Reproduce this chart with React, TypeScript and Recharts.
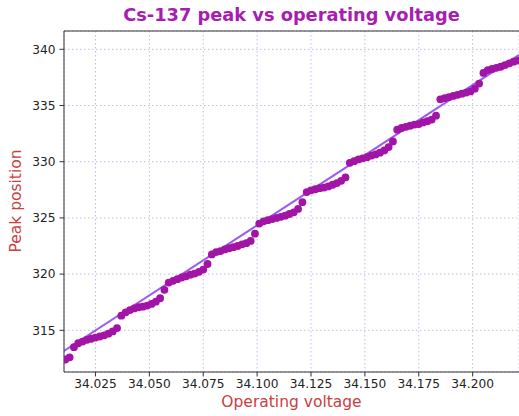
import { ScatterChart, Scatter, XAxis, YAxis, CartesianGrid, ReferenceLine } from "recharts";

// operating voltage (V) for each measured peak
const voltages = [
  34.011, 34.013, 34.015, 34.017, 34.019, 34.021, 34.023, 34.025, 34.027, 34.029,
  34.031, 34.033, 34.035, 34.037, 34.039, 34.041, 34.043, 34.045, 34.047, 34.049,
  34.051, 34.053, 34.055, 34.057, 34.059, 34.061, 34.063, 34.065, 34.067, 34.069,
  34.071, 34.073, 34.075, 34.077, 34.079, 34.081, 34.083, 34.085, 34.087, 34.089,
  34.091, 34.093, 34.095, 34.097, 34.099, 34.101, 34.103, 34.105, 34.107, 34.109,
  34.111, 34.113, 34.115, 34.117, 34.119, 34.121, 34.123, 34.125, 34.127, 34.129,
  34.131, 34.133, 34.135, 34.137, 34.139, 34.141, 34.143, 34.145, 34.147, 34.149,
  34.151, 34.153, 34.155, 34.157, 34.159, 34.161, 34.163, 34.165, 34.167, 34.169,
  34.171, 34.173, 34.175, 34.177, 34.179, 34.181, 34.183, 34.185, 34.187, 34.189,
  34.191, 34.193, 34.195, 34.197, 34.199, 34.201, 34.203, 34.205, 34.207, 34.209,
  34.211, 34.213, 34.215, 34.217, 34.219, 34.221,
];

// Cs-137 photopeak channel
const peaks = [
  312.4, 312.6, 313.5, 313.85, 314.0, 314.15, 314.25, 314.35, 314.45, 314.55,
  314.7, 314.9, 315.2, 316.3, 316.6, 316.8, 316.95, 317.05, 317.1, 317.2,
  317.35, 317.55, 317.85, 318.6, 319.25, 319.4, 319.55, 319.7, 319.8, 319.95,
  320.05, 320.2, 320.4, 320.9, 321.75, 321.95, 322.05, 322.2, 322.3, 322.4,
  322.5, 322.65, 322.75, 322.95, 323.6, 324.5, 324.7, 324.8, 324.9, 325.0,
  325.1, 325.2, 325.35, 325.5, 325.8, 326.4, 327.3, 327.45, 327.55, 327.65,
  327.7, 327.8, 327.95, 328.1, 328.3, 328.6, 329.9, 330.05, 330.2, 330.3,
  330.4, 330.55, 330.65, 330.8, 331.0, 331.3, 331.8, 332.85, 333.0, 333.1,
  333.2, 333.3, 333.35, 333.5, 333.6, 333.75, 334.1, 335.55, 335.65, 335.75,
  335.85, 335.95, 336.05, 336.15, 336.25, 336.5, 336.95, 337.9, 338.15, 338.25,
  338.35, 338.45, 338.6, 338.75, 338.9, 339.0,
];

// linear fit endpoints
const fitLine = [
  { x: 34.0104, y: 313.17 },
  { x: 34.2215, y: 339.5 },
];

const xTicks = [34.025, 34.05, 34.075, 34.1, 34.125, 34.15, 34.175, 34.2];
const yTicks = [315, 320, 325, 330, 335, 340];
const xDomain = [34.0104, 34.2215];
const yDomain = [311.29, 341.63];

const points = voltages.map((v, i) => ({ v, p: peaks[i] }));

const font = "'DejaVu Sans', sans-serif";
const tickStyle = { fontSize: 12.2, fill: "#222", fontFamily: font };

const Dot = (props: any) => (
  <circle cx={props.cx} cy={props.cy} r={3.9} fill="#a214a6" />
);

export default function App() {
  return (
    <div style={{ position: "absolute", left: 0, top: 0, width: 519, height: 416, overflow: "hidden", background: "#fff" }}>
      <ScatterChart width={519} height={416} margin={{ top: 31, right: 0, bottom: 0, left: 0 }}>
        <CartesianGrid stroke="#bebeea" strokeDasharray="1.5 2.5" />
        <XAxis
          type="number"
          dataKey="v"
          domain={xDomain}
          ticks={xTicks}
          allowDataOverflow
          height={44}
          tickFormatter={(t: number) => t.toFixed(3)}
          tick={tickStyle}
          tickSize={4.5}
          tickMargin={3}
          stroke="#333"
        />
        <YAxis
          type="number"
          dataKey="p"
          domain={yDomain}
          ticks={yTicks}
          allowDataOverflow
          width={64}
          tick={tickStyle}
          tickSize={4.5}
          tickMargin={4}
          stroke="#333"
        />
        <ReferenceLine y={yDomain[1]} stroke="#333" />
        <Scatter data={points} shape={Dot} isAnimationActive={false} />
        <ReferenceLine segment={fitLine} stroke="#9b5cf2" strokeWidth={2} ifOverflow="hidden" />
      </ScatterChart>
      <div style={{ position: "absolute", left: 64, width: 455, top: 4, textAlign: "center", fontFamily: font, fontWeight: "bold", fontSize: 17.8, color: "#a81cb0" }}>
        Cs-137 peak vs operating voltage
      </div>
      <div style={{ position: "absolute", left: 64, width: 455, top: 393, textAlign: "center", fontFamily: font, fontSize: 15.5, color: "#c94040" }}>
        Operating voltage
      </div>
      <div style={{ position: "absolute", left: 16, top: 201, width: 0, height: 0 }}>
        <div style={{ position: "absolute", transform: "translate(-50%, -50%) rotate(-90deg)", whiteSpace: "nowrap", fontFamily: font, fontSize: 15.5, color: "#c94040" }}>
          Peak position
        </div>
      </div>
    </div>
  );
}
